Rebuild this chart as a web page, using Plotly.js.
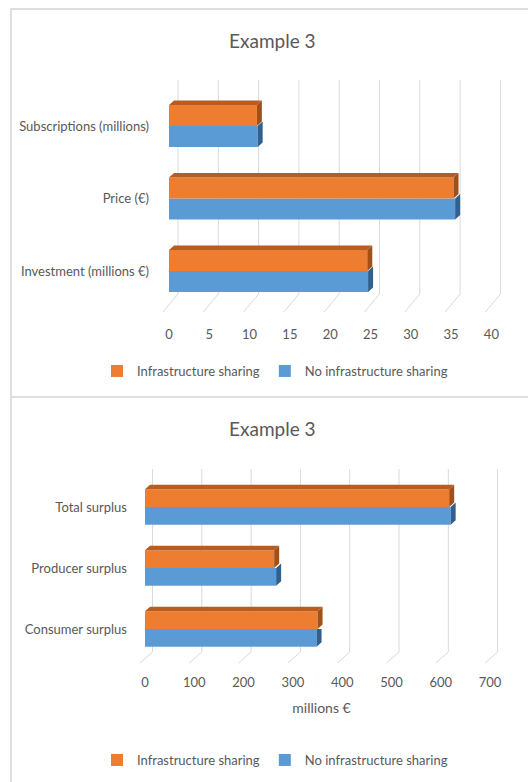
<!DOCTYPE html>
<html><head><meta charset="utf-8">
<script src="https://cdn.plot.ly/plotly-3.0.1.min.js"></script>
<style>html,body{margin:0;padding:0;background:#fff}#chart{width:528px;height:782px}</style>
</head><body><div id="chart"></div>
<script>
// ---- data ----
const categoriesTop = ['Investment (millions €)', 'Price (€)', 'Subscriptions (millions)'];
const sharingTop = [24.6, 35.3, 10.9];
const noSharingTop = [24.7, 35.5, 11.0];
const ticksTop = [0, 5, 10, 15, 20, 25, 30, 35, 40];

const categoriesBottom = ['Consumer surplus', 'Producer surplus', 'Total surplus'];
const sharingBottom = [350, 262, 617];
const noSharingBottom = [348, 266, 620];
const ticksBottom = [0, 100, 200, 300, 400, 500, 600, 700];

const seriesNames = ['Infrastructure sharing', 'No infrastructure sharing'];
const titleText = 'Example 3';
const bottomAxisTitle = 'millions €';

// ---- style / geometry ----
const W = 528, H = 782;
const FONT = 'Lato, sans-serif';
const TXT = '#595959';
const ORANGE = '#ed7d31', ORANGE_TOP = '#b85d1f', ORANGE_SIDE = '#a2501a';
const BLUE = '#5b9bd5', BLUE_SIDE = '#2f6090';
const GRID = '#d9d9d9';
const BAR_H = 0.29;

const geo = {
  top:    {xPx: [150, 515], yPx: [76, 325], x0: 169, kx: 8.06, y0: 271, ky: 72.5,
           backDx: 9, frontDx: -6, gridTop: 80, gridBottom: 294, floorBottom: 312},
  bottom: {xPx: [128, 515], yPx: [462, 672], x0: 145, kx: 0.493, y0: 629, ky: 61,
           backDx: 7.5, frontDx: -5, gridTop: 469, gridBottom: 652, floorBottom: 663}
};
function rangeX(g) { return [(g.xPx[0] - g.x0) / g.kx, (g.xPx[1] - g.x0) / g.kx]; }
function rangeY(g) { return [-(g.yPx[1] - g.y0) / g.ky, (g.y0 - g.yPx[0]) / g.ky]; }
function domX(g) { return [g.xPx[0] / W, g.xPx[1] / W]; }
function domY(g) { return [1 - g.yPx[1] / H, 1 - g.yPx[0] / H]; }
function yd(g, px) { return (g.y0 - px) / g.ky; }

const traces = [];
const shapes = [];

function buildChart(g, cats, orangeVals, blueVals, ticks, xa, ya, legendId) {
  const idx = cats.map((c, i) => i);
  traces.push({
    type: 'bar', orientation: 'h', name: seriesNames[1], x: blueVals, y: idx,
    width: BAR_H, offset: -BAR_H, marker: {color: BLUE, line: {width: 0}},
    xaxis: xa, yaxis: ya, legend: legendId, legendrank: 2, hoverinfo: 'x'
  });
  traces.push({
    type: 'bar', orientation: 'h', name: seriesNames[0], x: orangeVals, y: idx,
    width: BAR_H, offset: 0, marker: {color: ORANGE, line: {width: 0}},
    xaxis: xa, yaxis: ya, legend: legendId, legendrank: 1, hoverinfo: 'x'
  });
  const dx = 5 / g.kx, dy = 4.5 / g.ky;
  const bs = {x: [], y: []}, os = {x: [], y: []}, ot = {x: [], y: []};
  idx.forEach(i => {
    const ov = orangeVals[i], bv = blueVals[i];
    if (bv > ov) {
      bs.x.push(bv, bv, bv + dx, bv + dx, null);
      bs.y.push(i - BAR_H, i, i + dy, i - BAR_H + dy, null);
    } else {
      bs.x.push(bv, bv, bv + dx, bv + dx, null);
      bs.y.push(i - BAR_H, i, i, i - BAR_H + dy, null);
    }
    os.x.push(ov, ov, ov + dx, ov + dx, null);
    os.y.push(i, i + BAR_H, i + BAR_H + dy, i + dy, null);
    ot.x.push(0, ov, ov + dx, dx, null);
    ot.y.push(i + BAR_H, i + BAR_H, i + BAR_H + dy, i + BAR_H + dy, null);
  });
  [[bs, BLUE_SIDE], [os, ORANGE_SIDE], [ot, ORANGE_TOP]].forEach(([p, c]) => {
    traces.push({type: 'scatter', mode: 'lines', x: p.x, y: p.y, fill: 'toself',
      fillcolor: c, line: {width: 0, color: c}, showlegend: false, hoverinfo: 'skip',
      xaxis: xa, yaxis: ya});
  });
  const xr = xa, yr = ya;
  ticks.forEach(t => {
    const xb = t + g.backDx / g.kx, xf = t + g.frontDx / g.kx;
    shapes.push({type: 'line', xref: xr, yref: yr, layer: 'below',
      x0: xb, x1: xb, y0: yd(g, g.gridTop), y1: yd(g, g.gridBottom),
      line: {color: GRID, width: 1}});
    shapes.push({type: 'line', xref: xr, yref: yr, layer: 'below',
      x0: xb, x1: xf, y0: yd(g, g.gridBottom), y1: yd(g, g.floorBottom),
      line: {color: GRID, width: 1}});
  });
}

buildChart(geo.top, categoriesTop, sharingTop, noSharingTop, ticksTop, 'x', 'y', 'legend');
buildChart(geo.bottom, categoriesBottom, sharingBottom, noSharingBottom, ticksBottom, 'x2', 'y2', 'legend2');

shapes.push({type: 'rect', xref: 'paper', yref: 'paper', x0: 11 / W, x1: 1.02,
  y0: 1 - 397 / H, y1: 1 - 9 / H, line: {color: '#dedede', width: 2}, layer: 'below'});
shapes.push({type: 'rect', xref: 'paper', yref: 'paper', x0: 11 / W, x1: 1.02,
  y0: -0.02, y1: 1 - 397 / H, line: {color: '#dedede', width: 2}, layer: 'below'});

const axisCommon = {showgrid: false, zeroline: false, showline: false, ticks: '',
  tickfont: {family: FONT, size: 13, color: TXT}, fixedrange: true};

const legendCommon = {orientation: 'h', xanchor: 'center', yanchor: 'middle',
  font: {family: FONT, size: 13, color: TXT}, bgcolor: 'rgba(0,0,0,0)', itemwidth: 30};

const layout = {
  width: W, height: H, margin: {l: 0, r: 0, t: 0, b: 0},
  paper_bgcolor: '#ffffff', plot_bgcolor: 'rgba(0,0,0,0)',
  barmode: 'overlay', showlegend: true,
  font: {family: FONT, color: TXT},
  xaxis: Object.assign({}, axisCommon, {domain: domX(geo.top), range: rangeX(geo.top),
    tickvals: ticksTop, anchor: 'y', ticklabelstandoff: 0}),
  yaxis: Object.assign({}, axisCommon, {domain: domY(geo.top), range: rangeY(geo.top),
    tickvals: categoriesTop.map((c, i) => i), ticktext: categoriesTop, anchor: 'x', ticklabelstandoff: 0}),
  xaxis2: Object.assign({}, axisCommon, {domain: domX(geo.bottom), range: rangeX(geo.bottom),
    tickvals: ticksBottom, anchor: 'y2', ticklabelstandoff: 1,
    title: {text: bottomAxisTitle, font: {family: FONT, size: 14, color: TXT}, standoff: 14}}),
  yaxis2: Object.assign({}, axisCommon, {domain: domY(geo.bottom), range: rangeY(geo.bottom),
    tickvals: categoriesBottom.map((c, i) => i), ticktext: categoriesBottom, anchor: 'x2', ticklabelstandoff: 0}),
  legend: Object.assign({}, legendCommon, {x: 275 / W, y: 1 - 371 / H}),
  legend2: Object.assign({}, legendCommon, {x: 275 / W, y: 1 - 760 / H}),
  annotations: [
    {text: titleText, xref: 'paper', yref: 'paper', x: 272 / W, y: 1 - 41 / H,
      xanchor: 'center', yanchor: 'middle', showarrow: false, font: {family: FONT, size: 19, color: TXT}},
    {text: titleText, xref: 'paper', yref: 'paper', x: 272 / W, y: 1 - 429 / H,
      xanchor: 'center', yanchor: 'middle', showarrow: false, font: {family: FONT, size: 19, color: TXT}}
  ],
  shapes: shapes
};

Plotly.newPlot('chart', traces, layout, {displayModeBar: false, staticPlot: true});
</script>
</body></html>
